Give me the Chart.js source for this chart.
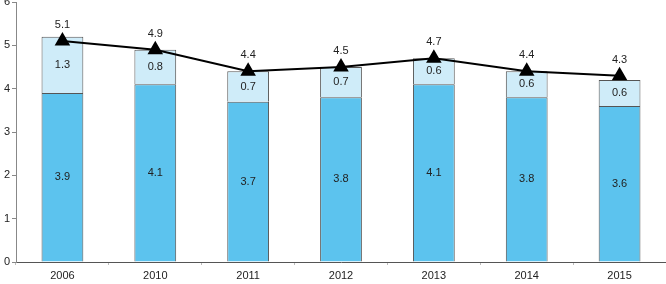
<!DOCTYPE html>
<html>
<head>
<meta charset="utf-8">
<script src="https://cdn.jsdelivr.net/npm/chart.js@4"></script>
<style>
  html, body { margin: 0; padding: 0; background: #fff; overflow: hidden; }
  #wrap { width: 666px; height: 284px; }
  canvas { display: block; }
</style>
</head>
<body>
<div id="wrap"><canvas id="chart"></canvas></div>
<script>
// === DATA ===
const years = ['2006', '2010', '2011', '2012', '2013', '2014', '2015'];
const baseValues = [3.9, 4.1, 3.7, 3.8, 4.1, 3.8, 3.6];
const extraValues = [1.3, 0.8, 0.7, 0.7, 0.6, 0.6, 0.6];
const totalValues = [5.1, 4.9, 4.4, 4.5, 4.7, 4.4, 4.3];
const yTicks = [0, 1, 2, 3, 4, 5, 6];

const FONT = '"Liberation Sans", Arial, sans-serif';

// labels inside bars and above the triangles
const valueLabels = {
    id: 'valueLabels',
    afterDatasetsDraw(chart) {
        const ctx = chart.ctx;
        ctx.save();
        ctx.font = '11px ' + FONT;
        ctx.fillStyle = '#222';
        ctx.textAlign = 'center';
        ctx.textBaseline = 'middle';
        chart.data.datasets.forEach((ds, di) => {
            const meta = chart.getDatasetMeta(di);
            meta.data.forEach((el, i) => {
                const v = ds.data[i];
                if (ds.type === 'line') {
                    ctx.fillText(v.toFixed(1), el.x, el.y - 16);
                } else {
                    ctx.fillText(v.toFixed(1), el.x, (el.y + el.base) / 2);
                }
            });
        });
        ctx.restore();
    }
};

new Chart(document.getElementById('chart'), {
    data: {
        labels: years,
        datasets: [
            { type: 'line', data: totalValues, borderColor: '#000', borderWidth: 2, pointStyle: 'triangle',
              pointRadius: 7, pointBackgroundColor: '#000', pointBorderColor: '#000', tension: 0, order: 0, clip: false },
            { type: 'bar', data: baseValues, backgroundColor: '#5cc3ee', borderColor: '#555', borderWidth: 1, order: 1 },
            { type: 'bar', data: extraValues, backgroundColor: '#cfecf9', borderColor: '#555', borderWidth: 1, order: 1 }
        ]
    },
    options: {
        responsive: true, maintainAspectRatio: false, animation: false,
        layout: { autoPadding: false, padding: { top: 2, right: 0, left: 0, bottom: 0 } },
        datasets: { bar: { categoryPercentage: 1, barPercentage: 0.45 } },
        plugins: { legend: { display: false }, tooltip: { enabled: false } },
        scales: {
            x: {
                stacked: true,
                grid: { display: true, drawOnChartArea: false, tickLength: 3, color: '#bbb' },
                border: { color: '#555', width: 1 },
                ticks: { color: '#222', font: { family: FONT, size: 11 }, padding: 4, maxRotation: 0 },
                afterFit: s => { s.height = 22; s.paddingLeft = 0; s.paddingRight = 0; }
            },
            y: {
                stacked: true, min: 0, max: 6,
                afterBuildTicks: s => { s.ticks = yTicks.map(v => ({ value: v })); },
                grid: { display: true, drawOnChartArea: false, tickLength: 4, color: '#888' },
                border: { color: '#888', width: 1 },
                ticks: { color: '#222', font: { family: FONT, size: 11 }, padding: 2 },
                afterFit: s => { s.width = 16; s.paddingTop = 0; s.paddingBottom = 0; }
            }
        }
    },
    plugins: [valueLabels]
});
</script>
</body>
</html>
